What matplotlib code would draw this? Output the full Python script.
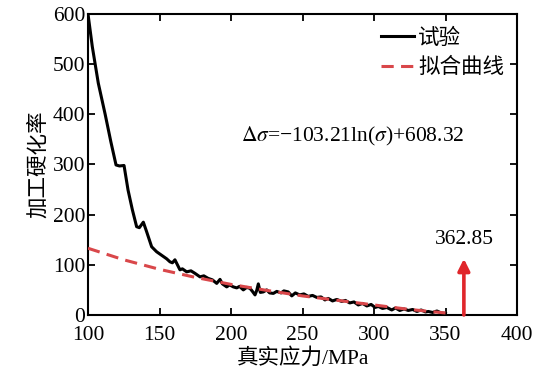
import matplotlib
matplotlib.use("Agg")
from matplotlib import pyplot as plt

plt.rcParams['font.family'] = ['Liberation Serif', 'Noto Sans CJK SC']
plt.rcParams['mathtext.fontset'] = 'stix'
plt.rcParams['axes.unicode_minus'] = True

test_x = [100, 103, 107.2, 112, 116, 119.6, 122, 125.2, 128, 131, 134, 135.9, 138.7,
          141, 144.5, 148, 152, 155, 157.3, 159, 160.8, 164.3, 166, 169, 172, 174.8,
          178.3, 181, 184, 187, 190, 192.3, 194, 197, 199, 201.6, 204, 206, 208.6,
          211, 213.3, 215, 216.8, 218, 219.1, 220.5, 222.6, 225, 227, 229.6, 232,
          235, 237, 240, 242.5, 245, 248, 251, 254, 257, 260, 263, 265.7, 268, 271,
          274, 277.4, 280, 283, 286, 289, 292, 295, 298, 300.8, 303, 306, 309,
          312.4, 315, 318, 321, 324, 327, 330, 333, 336, 338, 341, 344, 347, 350]
test_y = [600, 535, 462, 400, 345, 299, 297, 298, 249, 210, 176, 174, 185,
          166, 136, 126, 118, 112, 106, 104, 110, 90, 92, 86, 88, 83,
          76, 78, 73, 70, 63, 71, 62, 56, 60, 56, 54, 57, 50,
          55, 53, 47, 40, 49, 62, 45, 46, 50, 44, 43, 47,
          44, 48, 46, 38, 44, 40, 42, 37, 39, 35, 36, 30, 33, 28,
          31, 27, 29, 24, 26, 20, 23, 18, 21, 15, 17, 13, 15,
          10, 14, 9, 12, 9, 11, 7, 10, 6, 7, 5, 8, 4, 3]

# Fitted curve
fit_x = [100, 125, 150, 175, 200, 225, 250, 275, 300, 325, 350]
fit_y = [133, 110, 91, 75, 61, 49, 38, 29, 20, 11, 4]

root_x = 362.85
arrow_top = 112

fs = 15.5

fig = plt.figure(figsize=(5.5, 3.77), dpi=100)
ax = fig.add_axes([0.16, 0.1645, 0.78, 0.7985])

ax.plot(test_x, test_y, color='black', lw=2.2, label='试验', zorder=3)
ax.plot(fit_x, fit_y, color='#d9474a', lw=2.2, ls=(0, (4.0, 2.4)), label='拟合曲线', zorder=4)

ax.annotate('', xy=(root_x, arrow_top), xytext=(root_x, 0),
            arrowprops=dict(arrowstyle='-|>,head_width=0.35,head_length=0.7',
                            color='#e0262b', lw=2.6, shrinkA=0, shrinkB=0))
ax.text(root_x, 150, '362.85', ha='center', va='center', fontsize=fs)

ax.text(207, 355, r'$\Delta\sigma$=−103.21ln($\sigma$)+608.32', ha='left', va='center',
        fontsize=fs)

ax.set_xlim(100, 400)
ax.set_ylim(0, 600)
ax.set_xticks(range(100, 401, 50))
ax.set_yticks(range(0, 601, 100))
ax.tick_params(direction='in', top=True, right=True, labeltop=False, labelright=False,
               labelsize=fs, length=5, width=1.3)
ax.tick_params(axis='x', pad=8)
ax.tick_params(axis='y', pad=2)
for s in ax.spines.values():
    s.set_linewidth(1.5)

ax.set_xlabel('真实应力/MPa', fontsize=fs, labelpad=2)
ax.set_ylabel('加工硬化率', fontsize=fs, labelpad=3)

ax.legend(loc='upper right', frameon=False, fontsize=fs, handlelength=1.5,
          handletextpad=0.2, borderaxespad=0.2, labelspacing=0.45,
          bbox_to_anchor=(1.0, 0.995))

fig.savefig('out.png', dpi=100)
